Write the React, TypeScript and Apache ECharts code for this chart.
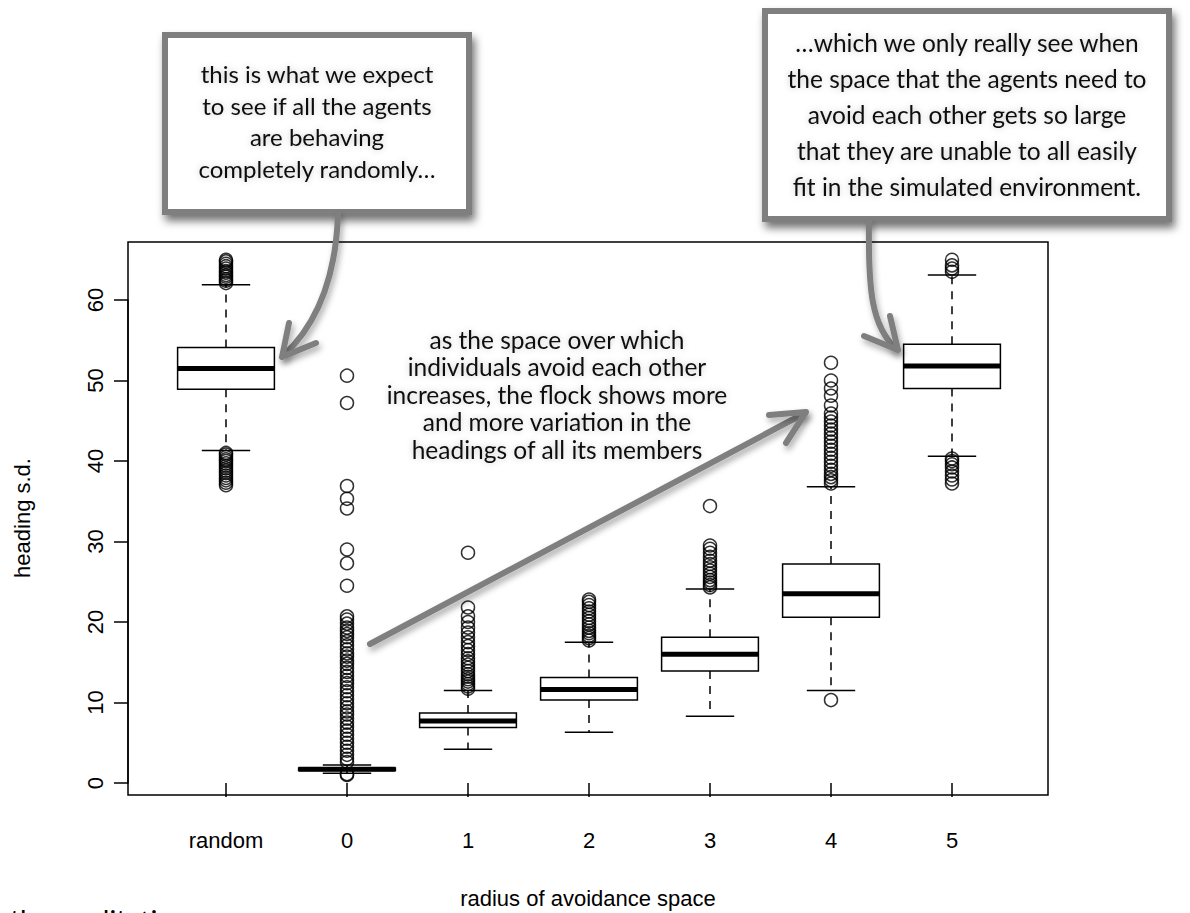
import React, { useEffect, useRef } from 'react';
import * as echarts from 'echarts';

const categories = ['random', '0', '1', '2', '3', '4', '5'];
const whiskerLow = [41.3, 1.2, 4.2, 6.3, 8.3, 11.5, 40.6];
const quartile1 = [48.9, 1.55, 6.9, 10.3, 13.9, 20.6, 49.0];
const medians = [51.5, 1.7, 7.7, 11.6, 16.0, 23.5, 51.8];
const quartile3 = [54.1, 1.85, 8.7, 13.1, 18.1, 27.2, 54.5];
const whiskerHigh = [61.9, 2.25, 11.5, 17.5, 24.1, 36.8, 63.1];

const outliersRandom = [62.1, 62.4, 62.6, 62.9, 63.1, 63.4, 63.6, 63.9, 64.2, 64.5, 64.8, 65.0,
  41.0, 40.8, 40.5, 40.2, 40.0, 39.7, 39.4, 39.1, 38.8, 38.5, 38.2, 37.9, 37.6, 37.3, 37.0];
const outliers0 = [50.6, 47.2, 36.9, 35.3, 34.1, 29.0, 27.3, 24.5, 20.7, 20.3, 19.8, 19.3, 18.9, 18.5,
  18.1, 17.6, 17.1, 16.6, 16.1, 15.7, 15.2, 14.8, 14.3, 13.8, 13.3, 12.8, 12.4, 11.9, 11.4, 10.9, 10.4,
  9.9, 9.4, 8.9, 8.5, 8.0, 7.5, 7.0, 6.5, 6.0, 5.5, 5.0, 4.5, 4.0, 3.5, 3.0, 2.6, 1.1, 1.0];
const outliers1 = [28.6, 21.8, 20.7, 20.0, 19.3, 18.7, 18.1, 17.5, 17.0, 16.5, 16.0, 15.5, 15.1, 14.7,
  14.3, 13.9, 13.5, 13.2, 12.9, 12.6, 12.3, 12.0, 11.7];
const outliers2 = [22.8, 22.5, 22.1, 21.7, 21.3, 20.9, 20.5, 20.1, 19.7, 19.3, 18.9, 18.6, 18.3, 18.0, 17.7];
const outliers3 = [34.4, 29.5, 29.1, 28.6, 28.1, 27.6, 27.2, 26.8, 26.4, 26.0, 25.6, 25.2, 24.9, 24.6, 24.3];
const outliers4 = [52.2, 50.0, 49.0, 48.1, 46.9, 45.9, 45.4, 44.9, 44.4, 43.9, 43.4, 42.9, 42.4, 41.9,
  41.4, 40.9, 40.4, 39.9, 39.4, 38.9, 38.4, 38.0, 37.6, 37.2, 10.3];
const outliers5 = [65.0, 64.3, 63.9, 63.5, 40.3, 40.0, 39.6, 39.2, 38.7, 38.2, 37.7, 37.2];
const outlierGroups = [outliersRandom, outliers0, outliers1, outliers2, outliers3, outliers4, outliers5];

const yMin = 0;
const yMax = 60;
const yInterval = 10;

const leftNote = 'this is what we expect\nto see if all the agents\nare behaving\ncompletely randomly…';
const rightNote = '…which we only really see when\nthe space that the agents need to\navoid each other gets so large\nthat they are unable to all easily\nfit in the simulated environment.';
const middleNote = 'as the space over which\nindividuals avoid each other\nincreases, the flock shows more\nand more variation in the\nheadings of all its members';
const xTitle = 'radius of avoidance space';
const yTitle = 'heading s.d.';
const footText = 'the qualitative';

const GRAY = '#7f7f7f';
const NOTE_FONT = 'Lato, "Open Sans", sans-serif';
const AXIS_FONT = '"Liberation Sans", Arial, sans-serif';

export default function App() {
  const ref = useRef<HTMLDivElement>(null);

  useEffect(() => {
    if (!ref.current) return;
    const chart = echarts.init(ref.current, null, { renderer: 'svg' });

    const boxData = categories.map((_, i) => [i, whiskerLow[i], quartile1[i], medians[i], quartile3[i], whiskerHigh[i]]);
    const outlierData: number[][] = [];
    outlierGroups.forEach((g, i) => g.forEach((v) => outlierData.push([i, v])));

    const arrowStyle = {
      stroke: GRAY,
      lineWidth: 6,
      lineCap: 'round',
      lineJoin: 'round',
      fill: 'none',
      shadowBlur: 6,
      shadowOffsetX: 2,
      shadowOffsetY: 4,
      shadowColor: 'rgba(0,0,0,0.35)',
    };
    const calloutStyle = {
      fill: '#fff',
      stroke: GRAY,
      lineWidth: 6,
      shadowBlur: 8,
      shadowOffsetX: 3,
      shadowOffsetY: 6,
      shadowColor: 'rgba(0,0,0,0.55)',
    };
    const noteText = (text: string, x: number, y: number, size: number, lh: number) => ({
      type: 'text',
      z: 110,
      style: {
        text,
        x,
        y,
        font: `${size}px ${NOTE_FONT}`,
        fill: '#111',
        align: 'center',
        verticalAlign: 'middle',
        lineHeight: lh,
        textShadowColor: 'rgba(0,0,0,0.22)',
        textShadowBlur: 6,
      },
    });

    const option: any = {
      animation: false,
      backgroundColor: '#fff',
      grid: { left: 165.5, right: 177.5, top: 300, bottom: 130, containLabel: false },
      xAxis: {
        type: 'category',
        data: categories,
        offset: 12,
        axisLine: { show: false },
        axisTick: { show: true, alignWithLabel: true, length: 14, lineStyle: { color: '#000', width: 1.5 } },
        axisLabel: { margin: 34, color: '#000', fontSize: 22, fontFamily: AXIS_FONT, interval: 0 },
        splitLine: { show: false },
      },
      yAxis: {
        type: 'value',
        min: yMin,
        max: yMax,
        interval: yInterval,
        offset: 37.5,
        axisLine: { show: true, lineStyle: { color: '#000', width: 1.5 } },
        axisTick: { show: true, length: 14, lineStyle: { color: '#000', width: 1.5 } },
        axisLabel: { rotate: 90, margin: 22, color: '#000', fontSize: 22, fontFamily: AXIS_FONT },
        splitLine: { show: false },
      },
      series: [
        {
          type: 'custom',
          clip: false,
          data: boxData,
          encode: { x: 0, y: [1, 2, 3, 4, 5] },
          renderItem: (params: any, api: any) => {
            const idx = api.value(0);
            const lo = api.coord([idx, api.value(1)]);
            const q1 = api.coord([idx, api.value(2)]);
            const med = api.coord([idx, api.value(3)]);
            const q3 = api.coord([idx, api.value(4)]);
            const hi = api.coord([idx, api.value(5)]);
            const band = api.size([1, 0])[0];
            const bw = band * 0.8;
            const cw = bw * 0.5;
            const cx = med[0];
            const solid = { stroke: '#000', lineWidth: 1.5, fill: 'none' };
            const dashed = { stroke: '#000', lineWidth: 1.5, lineDash: [8, 7], fill: 'none' };
            return {
              type: 'group',
              children: [
                { type: 'line', shape: { x1: cx, y1: q1[1], x2: cx, y2: lo[1] }, style: dashed },
                { type: 'line', shape: { x1: cx, y1: q3[1], x2: cx, y2: hi[1] }, style: dashed },
                { type: 'line', shape: { x1: cx - cw / 2, y1: lo[1], x2: cx + cw / 2, y2: lo[1] }, style: solid },
                { type: 'line', shape: { x1: cx - cw / 2, y1: hi[1], x2: cx + cw / 2, y2: hi[1] }, style: solid },
                {
                  type: 'rect',
                  shape: { x: cx - bw / 2, y: q3[1], width: bw, height: q1[1] - q3[1] },
                  style: { fill: '#fff', stroke: '#000', lineWidth: 1.5 },
                },
                { type: 'line', shape: { x1: cx - bw / 2, y1: med[1], x2: cx + bw / 2, y2: med[1] }, style: { stroke: '#000', lineWidth: 5 } },
              ],
            };
          },
          z: 2,
        },
        {
          type: 'scatter',
          clip: false,
          data: outlierData,
          symbol: 'circle',
          symbolSize: 13,
          itemStyle: { color: 'rgba(0,0,0,0)', borderColor: '#000', borderWidth: 1.5 },
          z: 3,
        },
      ],
      graphic: [
        { type: 'rect', z: 1, shape: { x: 128, y: 242, width: 920, height: 553 }, style: { fill: 'none', stroke: '#000', lineWidth: 1.5 } },
        {
          type: 'text', z: 10, x: 22, y: 518, rotation: Math.PI / 2,
          style: { text: yTitle, x: 0, y: 0, font: `22px ${AXIS_FONT}`, fill: '#000', align: 'center', verticalAlign: 'middle' },
        },
        {
          type: 'text', z: 10,
          style: { text: xTitle, x: 588, y: 898, font: `22px ${AXIS_FONT}`, fill: '#000', align: 'center', verticalAlign: 'middle' },
        },
        {
          type: 'text', z: 10,
          style: { text: footText, x: 10, y: 906, font: `28px ${NOTE_FONT}`, fill: '#000', align: 'left', verticalAlign: 'top' },
        },
        { type: 'rect', z: 100, shape: { x: 165, y: 35, width: 304, height: 177 }, style: calloutStyle },
        noteText(leftNote, 317, 121, 24, 31.5),
        { type: 'rect', z: 100, shape: { x: 765, y: 11, width: 404, height: 208 }, style: calloutStyle },
        noteText(rightNote, 967, 114, 24.5, 36),
        noteText(middleNote, 557, 394, 24.5, 27.5),
        { type: 'bezierCurve', z: 105, shape: { x1: 338, y1: 214, cpx1: 336, cpy1: 272, cpx2: 320, cpy2: 322, x2: 283, y2: 356 }, style: arrowStyle },
        { type: 'polyline', z: 105, shape: { points: [[289, 323], [282, 357], [316, 343]] }, style: arrowStyle },
        { type: 'bezierCurve', z: 105, shape: { x1: 869, y1: 222, cpx1: 868, cpy1: 292, cpx2: 872, cpy2: 326, x2: 896, y2: 349 }, style: arrowStyle },
        { type: 'polyline', z: 105, shape: { points: [[890, 316], [898, 350], [864, 336]] }, style: arrowStyle },
        { type: 'line', z: 105, shape: { x1: 370, y1: 644, x2: 805, y2: 413 }, style: arrowStyle },
        { type: 'polyline', z: 105, shape: { points: [[769, 415], [806, 412], [786, 443]] }, style: arrowStyle },
      ],
    };

    chart.setOption(option);
    return () => chart.dispose();
  }, []);

  return (
    <div
      ref={ref}
      style={{ position: 'absolute', left: 0, top: 0, width: 1190, height: 913, background: '#fff' }}
    />
  );
}
